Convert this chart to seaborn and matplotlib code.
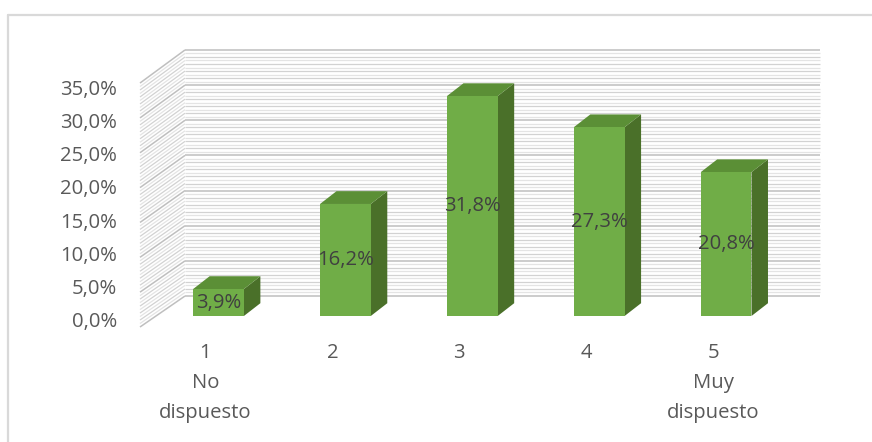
import numpy as np
import matplotlib
matplotlib.use("Agg")
import matplotlib.pyplot as plt
import seaborn as sns

# ---- data -------------------------------------------------------------
categories = ["1", "2", "3", "4", "5"]
cat_lines = [["1", "No", "dispuesto"], ["2"], ["3"], ["4"], ["5", "Muy", "dispuesto"]]
values = [3.9, 16.2, 31.8, 27.3, 20.8]
ytick_values = [0, 5, 10, 15, 20, 25, 30, 35]

# ---- styling ------------------------------------------------------------
sns.set_style("white")
plt.rcParams["font.family"] = ["Open Sans", "DejaVu Sans"]

W, H = 872, 442
FS = 14.6                       # points at dpi 100
TXT = "#595959"
LBL = "#404040"
FRONT = "#70AD47"
TOP = "#5B8F36"
SIDE = "#4A7029"

# pixel geometry of the oblique 3D frame
X0, Y0 = 218.5, 316.0           # centre of first bar / baseline of bar faces
PX_CAT, PX_PCT = 126.9, 6.915   # pixels per category / per percentage point
DEPTH_DX, DEPTH_DY = 16.5, 12.8 # bar depth in pixels


def to_data(px, py):
    return (px - X0) / PX_CAT, (Y0 - py) / PX_PCT


fig = plt.figure(figsize=(W / 100, H / 100), dpi=100)
ax = fig.add_axes([0, 0, 1, 1])
ax.set_xlim(-X0 / PX_CAT, (W - X0) / PX_CAT)
ax.set_ylim((Y0 - H) / PX_PCT, Y0 / PX_PCT)
ax.axis("off")

# chart frame (top and left edge)
fig.add_artist(plt.Line2D([8 / W, 1], [1 - 15 / H, 1 - 15 / H], color="#D9D9D9", lw=1.6))
fig.add_artist(plt.Line2D([8 / W, 8 / W], [0, 1 - 15 / H], color="#D9D9D9", lw=1.6))

# ---- walls: back wall and left side wall with gridlines ----------------
back_x0, back_x1 = 185, 820
for v in np.arange(0, 35.01, 0.5):
    if abs(v % 5) < 1e-6:
        col, lw = "#BFBFBF", 1.1
    elif abs(v % 1) < 1e-6:
        col, lw = "#D2D2D2", 0.9
    else:
        col, lw = "#E4E4E4", 0.9
    yb = 296 - 7.03 * v
    yf = 327 - 6.97 * v
    xa, ya = to_data(back_x0, yb)
    xb, _ = to_data(back_x1, yb)
    ax.plot([xa, xb], [ya, ya], color=col, lw=lw, zorder=1, solid_capstyle="butt")
    xf, yfd = to_data(140, yf)
    ax.plot([xf, xa], [yfd, ya], color=col, lw=lw, zorder=1, solid_capstyle="butt")

# ---- bars ------------------------------------------------------------
sns.barplot(x=categories, y=values, color=FRONT, saturation=1, width=0.4,
            ax=ax, zorder=3, linewidth=0)
ax.set_xlim(-X0 / PX_CAT, (W - X0) / PX_CAT)
ax.set_ylim((Y0 - H) / PX_PCT, Y0 / PX_PCT)

dx, dy = DEPTH_DX / PX_CAT, DEPTH_DY / PX_PCT
for p, v in zip(ax.patches, values):
    x0 = p.get_x()
    x1 = x0 + p.get_width()
    h = p.get_height()
    # right side face
    ax.fill([x1, x1 + dx, x1 + dx, x1], [0, dy, h + dy, h], color=SIDE, lw=0, zorder=2.9)
    # top face
    ax.fill([x0, x1, x1 + dx, x0 + dx], [h, h, h + dy, h + dy], color=TOP, lw=0, zorder=2.9)
    # value label in the middle of the front face
    ax.text((x0 + x1) / 2, h / 2, f"{v:.1f}".replace(".", ",") + "%",
            ha="center", va="center", fontsize=FS, color=LBL, zorder=5)

# ---- category labels ---------------------------------------------------
for i, lines in enumerate(cat_lines):
    for j, line in enumerate(lines):
        cx, cy = to_data(X0 + PX_CAT * i - 13, 353 + 30 * j)
        ax.text(cx, cy, line, ha="center", va="center", fontsize=FS, color=TXT)

# ---- value axis labels ------------------------------------------------
lab_ax = fig.add_axes([0, 1 - 319.5 / H, 124 / W, (319.5 - 87.5) / H])
lab_ax.set_ylim(0, 35)
lab_ax.set_xlim(0, 1)
lab_ax.patch.set_visible(False)
for s in lab_ax.spines.values():
    s.set_visible(False)
lab_ax.set_xticks([])
lab_ax.yaxis.tick_right()
lab_ax.set_yticks(ytick_values)
lab_ax.set_yticklabels([f"{t:.1f}".replace(".", ",") + "%" for t in ytick_values],
                       fontsize=FS, color=TXT)
lab_ax.tick_params(axis="y", length=0, pad=-5)
for t in lab_ax.get_yticklabels():
    t.set_ha("right")

fig.savefig("out.png", dpi=100, facecolor="white")
